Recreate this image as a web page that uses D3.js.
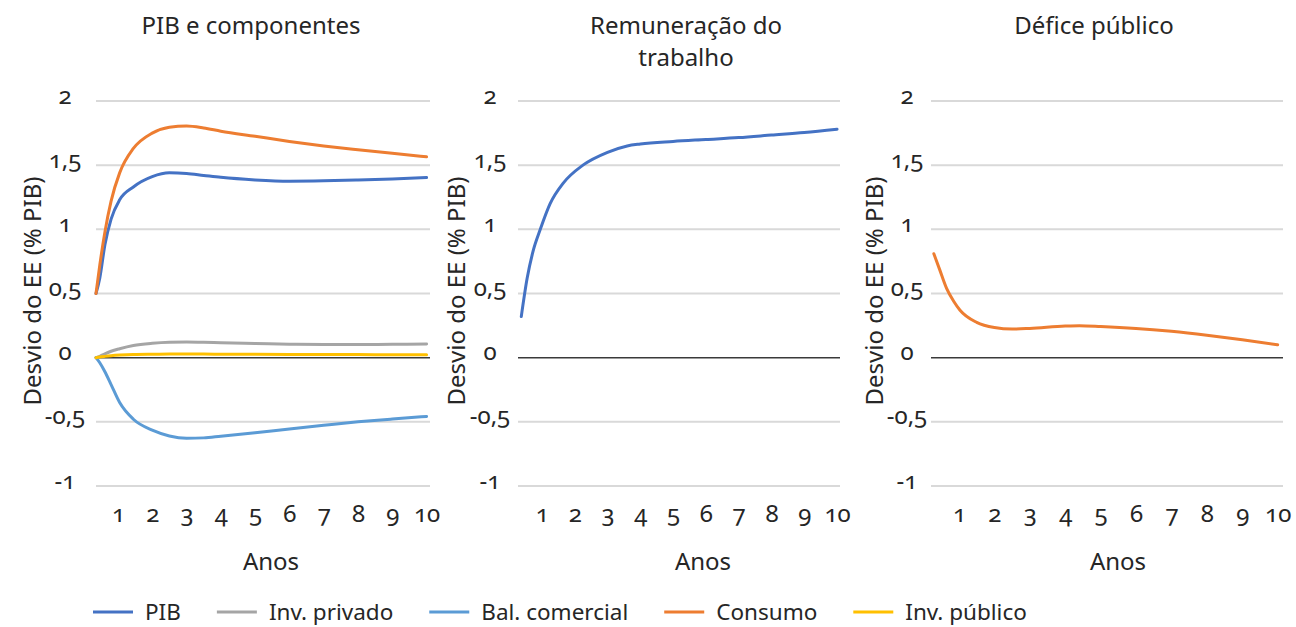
<!DOCTYPE html>
<html><head><meta charset="utf-8">
<script src="https://cdn.jsdelivr.net/npm/d3@7"></script>
<style>
body{margin:0;background:#fff}
text{font-family:"Noto Sans",sans-serif;fill:#262626;font-feature-settings:"onum" 1;font-variant-numeric:oldstyle-nums}
</style>
</head><body><svg id="c" width="1296" height="627"></svg>
<script>
// ---- data ----
const yTicks = [2, 1.5, 1, 0.5, 0, -0.5, -1];
const yTickLabels = ["2", "1,5", "1", "0,5", "0", "-0,5", "-1"];
const yearTicks = [1, 2, 3, 4, 5, 6, 7, 8, 9, 10];

// panel 1: PIB e componentes
const t1 = [0.36, 0.47, 0.62, 0.8, 1.05, 1.45, 2, 2.5, 3, 3.5, 4, 5, 6, 7, 8, 9, 10];
const pib = [0.5, 0.62, 0.88, 1.08, 1.23, 1.33, 1.41, 1.44, 1.435, 1.42, 1.405, 1.385, 1.375, 1.378, 1.385, 1.393, 1.403];
const invPrivado = [0, 0.01, 0.03, 0.05, 0.07, 0.095, 0.112, 0.12, 0.122, 0.12, 0.116, 0.11, 0.105, 0.103, 0.103, 0.104, 0.106];
const balComercial = [0, -0.04, -0.11, -0.21, -0.35, -0.48, -0.565, -0.61, -0.628, -0.625, -0.612, -0.585, -0.555, -0.527, -0.5, -0.478, -0.458];
const consumo = [0.5, 0.72, 0.98, 1.22, 1.44, 1.63, 1.75, 1.795, 1.805, 1.79, 1.765, 1.725, 1.685, 1.65, 1.62, 1.592, 1.565];
const invPublico = [0, 0.005, 0.01, 0.015, 0.02, 0.025, 0.027, 0.028, 0.028, 0.028, 0.027, 0.026, 0.025, 0.024, 0.024, 0.023, 0.023];

// panel 2: Remuneração do trabalho
const t2 = [0.37, 0.55, 0.73, 0.95, 1.25, 1.65, 2.25, 3, 3.6, 4, 5, 6, 7, 8, 9, 10];
const remuneracao = [0.32, 0.62, 0.83, 1.0, 1.2, 1.36, 1.5, 1.6, 1.65, 1.665, 1.685, 1.70, 1.715, 1.735, 1.755, 1.78];

// panel 3: Défice público
const t3 = [0.29, 0.45, 0.65, 0.85, 1.03, 1.5, 2, 2.5, 3, 4, 4.4, 5, 6, 7, 8, 9, 10];
const defice = [0.81, 0.69, 0.54, 0.44, 0.37, 0.275, 0.235, 0.223, 0.228, 0.246, 0.249, 0.243, 0.228, 0.205, 0.175, 0.14, 0.10];

const legendNames = ["PIB", "Inv. privado", "Bal. comercial", "Consumo", "Inv. público"];
const legendColors = ["#4472C4", "#A5A5A5", "#5B9BD5", "#ED7D31", "#FFC000"];

// ---- layout ----
const svg = d3.select("#c");
const FS = 24;
const LFS = 22.5;
const y = d3.scaleLinear().domain([-1, 2]).range([486, 101]);

const panels = [
  {title: ["PIB e componentes"], titleX: 251, left: 96, right: 430, dom: [0.36, 10.1], tickX: 65, yTitleX: 33, anosX: 271,
   series: [
     {t: t1, v: pib, c: legendColors[0]},
     {t: t1, v: invPrivado, c: legendColors[1]},
     {t: t1, v: balComercial, c: legendColors[2]},
     {t: t1, v: consumo, c: legendColors[3]},
     {t: t1, v: invPublico, c: legendColors[4]}
   ]},
  {title: ["Remuneração do", "trabalho"], titleX: 686, left: 518, right: 840, dom: [0.27, 10.09], tickX: 490, yTitleX: 457, anosX: 703,
   series: [{t: t2, v: remuneracao, c: legendColors[0]}]},
  {title: ["Défice público"], titleX: 1094, left: 931, right: 1283, dom: [0.21, 10.15], tickX: 907, yTitleX: 875, anosX: 1118,
   series: [{t: t3, v: defice, c: legendColors[3]}]}
];

panels.forEach(p => {
  const g = svg.append("g");
  const x = d3.scaleLinear().domain(p.dom).range([p.left, p.right]);

  // titles
  p.title.forEach((line, i) => {
    g.append("text").attr("x", p.titleX).attr("y", 34 + i * 32)
      .attr("text-anchor", "middle").attr("font-size", FS).text(line);
  });

  // gridlines
  g.selectAll(".grid").data(yTicks.filter(d => d !== 0)).join("line")
    .attr("x1", p.left).attr("x2", p.right)
    .attr("y1", d => y(d)).attr("y2", d => y(d))
    .attr("stroke", "#d9d9d9").attr("stroke-width", 2);
  g.append("line").attr("x1", p.left).attr("x2", p.right)
    .attr("y1", y(0)).attr("y2", y(0))
    .attr("stroke", "#3a3a3a").attr("stroke-width", 1.5);

  // y axis labels
  const ya = g.append("g").attr("transform", `translate(${p.left},0)`)
    .call(d3.axisLeft(y).tickValues(yTicks).tickSize(0).tickFormat((d, i) => yTickLabels[i]));
  ya.select(".domain").remove();
  ya.selectAll("text").attr("x", p.tickX - p.left).attr("dy", null).attr("y", 2)
    .attr("text-anchor", "middle").attr("font-size", FS).attr("font-family", null).attr("fill", null);

  // x axis labels
  const xa = g.append("g").attr("transform", `translate(0,${y(-1)})`)
    .call(d3.axisBottom(x).tickValues(yearTicks).tickSize(0).tickFormat(d3.format("d")));
  xa.select(".domain").remove();
  xa.selectAll("text").attr("y", 36).attr("dy", null)
    .attr("font-size", FS).attr("font-family", null).attr("fill", null);

  // axis titles
  g.append("text").attr("x", p.anosX).attr("y", 570).attr("text-anchor", "middle")
    .attr("font-size", FS).text("Anos");
  g.append("text").attr("transform", `translate(${p.yTitleX + 8},291) rotate(-90)`)
    .attr("text-anchor", "middle").attr("font-size", FS).text("Desvio do EE (% PIB)");

  // lines
  const line = d3.line().x(d => x(d[0])).y(d => y(d[1])).curve(d3.curveMonotoneX);
  p.series.forEach(s => {
    g.append("path").datum(s.t.map((t, i) => [t, s.v[i]]))
      .attr("d", line).attr("fill", "none").attr("stroke", s.c)
      .attr("stroke-width", 3).attr("stroke-linecap", "round").attr("stroke-linejoin", "round");
  });
});

// legend
const lg = svg.append("g");
let lx = 93;
legendNames.forEach((name, i) => {
  lg.append("line").attr("x1", lx).attr("x2", lx + 40).attr("y1", 612).attr("y2", 612)
    .attr("stroke", legendColors[i]).attr("stroke-width", 3);
  const t = lg.append("text").attr("x", lx + 52).attr("y", 620).attr("font-size", LFS).text(name);
  lx += 52 + t.node().getComputedTextLength() + 36;
});
</script>
</body></html>
